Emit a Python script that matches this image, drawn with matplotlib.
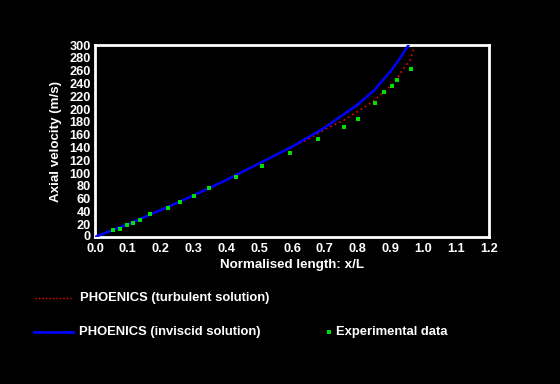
import matplotlib
matplotlib.use('Agg')
from matplotlib import pyplot as plt
from matplotlib.lines import Line2D
from matplotlib.transforms import ScaledTranslation

plt.rcParams['font.family'] = 'Liberation Sans'
plt.rcParams['font.weight'] = 'bold'

# inviscid solution (blue)
inv_x = [0.0, 0.1, 0.2, 0.3, 0.4, 0.5, 0.6, 0.7, 0.8, 0.85, 0.9, 0.93, 0.955]
inv_y = [0, 20, 42, 65, 89, 115, 141, 171, 207, 229, 259, 280, 300]

# turbulent solution (red dotted)
turb_x = [0.0, 0.1, 0.2, 0.3, 0.4, 0.5, 0.6, 0.65, 0.7, 0.76, 0.8, 0.85, 0.88, 0.91, 0.93, 0.96, 0.975]
turb_y = [0, 20, 42, 65, 89, 115, 141, 153, 168, 183, 196, 213, 227, 240, 256, 277, 300]

# experimental data (green squares)
exp_x = [0.056, 0.077, 0.098, 0.117, 0.138, 0.168, 0.223, 0.260, 0.302, 0.348, 0.430, 0.509,
         0.595, 0.680, 0.759, 0.802, 0.854, 0.881, 0.906, 0.921, 0.963]
exp_y = [11.6, 13.2, 19.5, 22.6, 27.3, 36.7, 44.6, 54, 63.4, 76, 93.3, 110.5,
         131, 152.9, 171.7, 184.3, 209.4, 226.7, 236.1, 245.5, 262.8]

xticks = [0.0, 0.1, 0.2, 0.3, 0.4, 0.5, 0.6, 0.7, 0.8, 0.9, 1.0, 1.1, 1.2]
yticks = list(range(0, 301, 20))

fig = plt.figure(figsize=(5.6, 3.84), dpi=100, facecolor='black')
ax = fig.add_axes([95/560, 1-237/384, 394/560, 192/384], facecolor='black')

ax.plot(turb_x, turb_y, color='#ff0000', linestyle=(0, (1, 2)), linewidth=1.2, zorder=2)
ax.plot(inv_x, inv_y, color='#0000ff', linewidth=1.8, zorder=3)
ax.plot(exp_x, exp_y, linestyle='none', marker='s', markersize=3.2,
        color='#00e000', markeredgewidth=0, zorder=4)

ax.set_xlim(0, 1.2)
ax.set_ylim(0, 300)
ax.set_xticks(xticks)
ax.set_xticklabels(['%.1f' % v for v in xticks])
ax.set_yticks(yticks)
ax.set_yticklabels([str(v) for v in yticks])
ax.tick_params(colors='white', length=0, labelsize=9.2)
ax.tick_params(axis='x', pad=4)
ax.tick_params(axis='y', pad=3)
for lab in ax.get_xticklabels() + ax.get_yticklabels():
    lab.set_fontweight('bold')
# nudge the y "0" label up slightly so it clears "0.0"
ylab0 = ax.get_yticklabels()[0]
ylab0.set_transform(ylab0.get_transform() + ScaledTranslation(0, 1.0/72, fig.dpi_scale_trans))
for s in ax.spines.values():
    s.set_color('white')
    s.set_linewidth(2)

ax.set_xlabel('Normalised length: x/L', color='white', fontsize=9.6, fontweight='bold', labelpad=3)
ax.set_ylabel('Axial velocity (m/s)', color='white', fontsize=9.6, fontweight='bold', labelpad=5)

# legend below the axes
fig.add_artist(Line2D([35/560, 73/560], [1-298/384, 1-298/384], color='#ff0000',
                      linestyle=(0, (1, 1.5)), linewidth=1))
fig.text(80/560, 1-298/384, 'PHOENICS (turbulent solution)', color='white',
         fontsize=9.4, fontweight='bold', va='center')
fig.add_artist(Line2D([34/560, 73/560], [1-332/384, 1-332/384], color='#0000ff', linewidth=2))
fig.text(79/560, 1-332/384, 'PHOENICS (inviscid solution)', color='white',
         fontsize=9.4, fontweight='bold', va='center')
fig.add_artist(Line2D([329/560], [1-332/384], color='#00e000', marker='s',
                      markersize=3, markeredgewidth=0, linestyle='none'))
fig.text(336/560, 1-332/384, 'Experimental data', color='white',
         fontsize=9.4, fontweight='bold', va='center')

fig.savefig('out.png', dpi=100, facecolor='black')
